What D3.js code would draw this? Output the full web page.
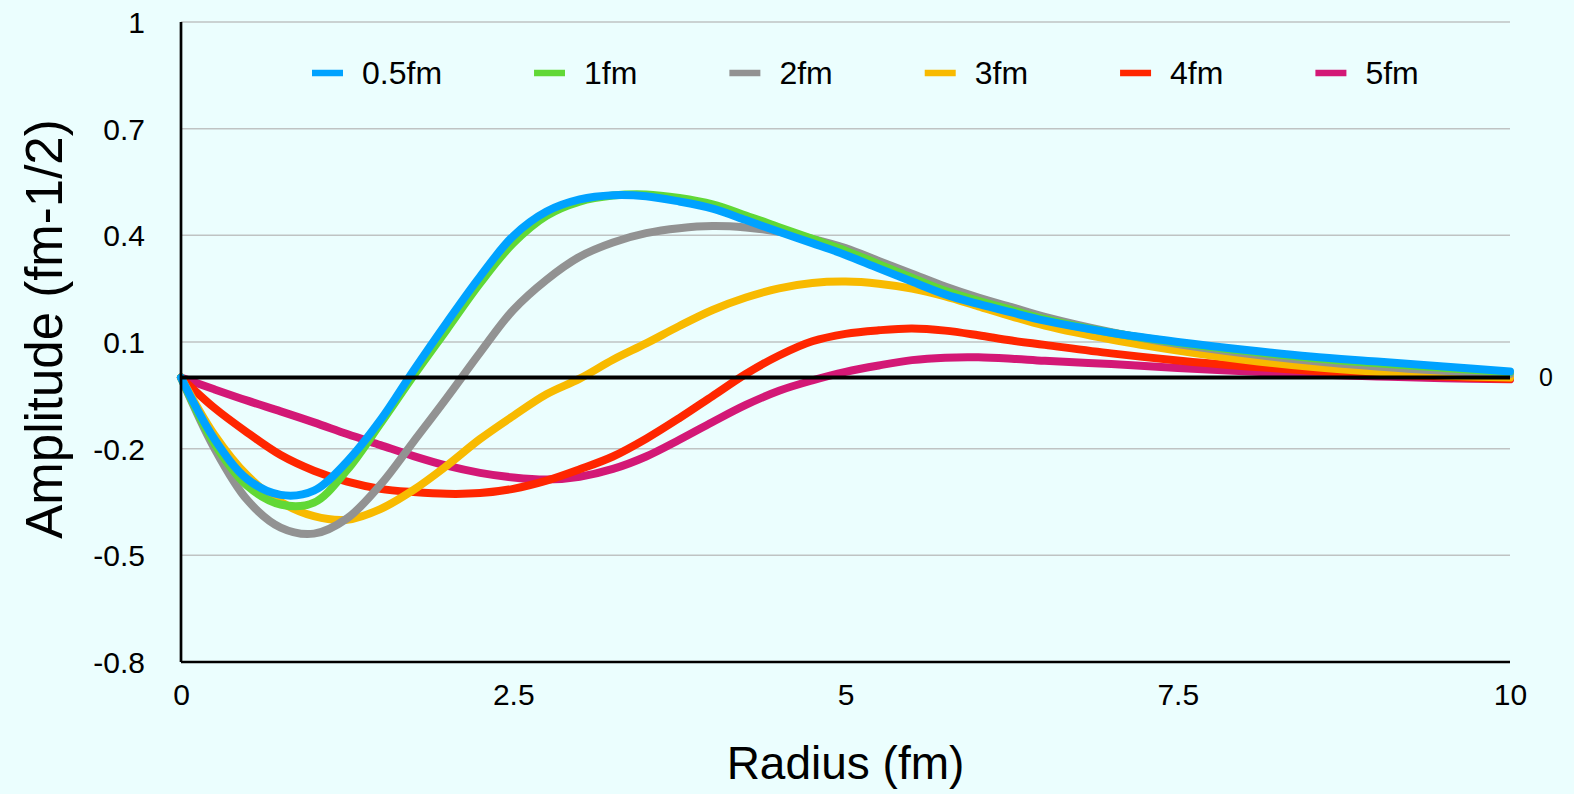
<!DOCTYPE html>
<html>
<head>
<meta charset="utf-8">
<script src="https://cdn.jsdelivr.net/npm/d3@7"></script>
<style>
  html, body { margin: 0; padding: 0; background: #ebfefe; }
  svg { display: block; }
  text { font-family: "Liberation Sans", Arial, Helvetica, sans-serif; fill: #000; }
</style>
</head>
<body>
<svg id="chart" width="1574" height="794"></svg>
<script>
// ---- Data ----
const radius = [0,0.25,0.5,0.75,1,1.25,1.5,1.75,2,2.25,2.5,2.75,3,3.25,3.5,3.75,4,4.25,4.5,4.75,5,5.25,5.5,5.75,6,6.25,6.5,7,7.5,8,8.5,9,9.5,10];

const s05 = [0,-0.172,-0.286,-0.33,-0.318,-0.236,-0.12,0.02,0.155,0.284,0.398,0.467,0.501,0.513,0.51,0.495,0.475,0.443,0.41,0.378,0.345,0.307,0.27,0.234,0.207,0.183,0.16,0.126,0.10,0.078,0.059,0.045,0.031,0.017];
const s1  = [0,-0.185,-0.305,-0.357,-0.352,-0.26,-0.13,0.005,0.135,0.265,0.378,0.455,0.495,0.512,0.515,0.505,0.487,0.456,0.423,0.39,0.357,0.319,0.281,0.244,0.216,0.19,0.164,0.126,0.098,0.075,0.055,0.04,0.027,0.015];
const s2  = [0,-0.198,-0.345,-0.422,-0.439,-0.396,-0.302,-0.18,-0.057,0.07,0.19,0.275,0.34,0.38,0.406,0.42,0.426,0.422,0.41,0.39,0.364,0.328,0.292,0.256,0.225,0.198,0.171,0.128,0.094,0.068,0.047,0.031,0.019,0.01];
const s3  = [0,-0.16,-0.276,-0.35,-0.39,-0.40,-0.37,-0.316,-0.248,-0.173,-0.108,-0.047,-0.003,0.05,0.096,0.145,0.19,0.225,0.251,0.266,0.27,0.264,0.25,0.228,0.2,0.172,0.146,0.107,0.076,0.05,0.03,0.016,0.006,0.0];
const s4  = [0,-0.085,-0.155,-0.218,-0.262,-0.293,-0.313,-0.322,-0.327,-0.325,-0.313,-0.29,-0.258,-0.222,-0.172,-0.114,-0.052,0.01,0.062,0.102,0.123,0.133,0.138,0.132,0.119,0.104,0.092,0.068,0.048,0.032,0.019,0.009,0.002,-0.004];
const s5  = [0,-0.033,-0.065,-0.095,-0.126,-0.159,-0.19,-0.221,-0.248,-0.268,-0.281,-0.287,-0.279,-0.257,-0.222,-0.175,-0.125,-0.077,-0.037,-0.008,0.016,0.034,0.049,0.056,0.057,0.053,0.047,0.038,0.027,0.018,0.009,0.003,-0.002,-0.005];

const seriesNames = ["0.5fm","1fm","2fm","3fm","4fm","5fm"];
const seriesValues = [s05, s1, s2, s3, s4, s5];
const seriesColors = ["#00a2ff","#61d836","#929292","#f8ba00","#ff2600","#d31876"];

const xTicks = [0, 2.5, 5, 7.5, 10];
const yTicks = [1, 0.7, 0.4, 0.1, -0.2, -0.5, -0.8];
const xTitle = "Radius (fm)";
const yTitle = "Amplitude (fm-1/2)";

(function () {
// ---- Layout ----
const svg = d3.select("#chart");
const mLeft = 181, mRight = 1510, mTop = 22, mBottom = 662;

const x = d3.scaleLinear().domain([0, 10]).range([mLeft, mRight]);
const y = d3.scaleLinear().domain([-0.8, 1]).range([mBottom, mTop]);

// gridlines
svg.append("g")
  .selectAll("line")
  .data(yTicks.filter(d => d !== -0.8))
  .join("line")
  .attr("x1", mLeft).attr("x2", mRight)
  .attr("y1", d => y(d)).attr("y2", d => y(d))
  .attr("stroke", "#bfc3c3").attr("stroke-width", 1.5);

// y axis
const yAxis = d3.axisLeft(y).tickValues(yTicks).tickSize(0).tickPadding(36)
  .tickFormat(d => String(+d.toFixed(1)));
const gy = svg.append("g").attr("transform", `translate(${mLeft},0)`).call(yAxis);
gy.select(".domain").remove();
gy.attr("font-family", null).attr("font-size", null);
gy.selectAll("text").style("font-size", "30px").attr("dy", "0.35em");

// x axis
const xAxis = d3.axisBottom(x).tickValues(xTicks).tickSize(0).tickPadding(22)
  .tickFormat(d => String(d));
const gx = svg.append("g").attr("transform", `translate(0,${mBottom})`).call(xAxis);
gx.select(".domain").remove();
gx.attr("font-family", null).attr("font-size", null);
gx.selectAll("text").style("font-size", "30px").attr("dy", "0.71em");

// series lines
const line = d3.line()
  .x((d, i) => x(radius[i]))
  .y(d => y(d))
  .curve(d3.curveCatmullRom.alpha(0.5));

const order = [5, 4, 3, 2, 1, 0];
svg.append("g")
  .selectAll("path")
  .data(order)
  .join("path")
  .attr("d", k => line(seriesValues[k]))
  .attr("fill", "none")
  .attr("stroke", k => seriesColors[k])
  .attr("stroke-width", 8)
  .attr("stroke-linejoin", "round")
  .attr("stroke-linecap", "round");

// zero line
svg.append("line")
  .attr("x1", mLeft).attr("x2", mRight)
  .attr("y1", y(0)).attr("y2", y(0))
  .attr("stroke", "#000").attr("stroke-width", 4);
svg.append("text")
  .attr("x", mRight + 36).attr("y", y(0))
  .attr("dy", "0.35em").attr("text-anchor", "middle")
  .style("font-size", "25px").text("0");

// axis lines
svg.append("line").attr("x1", mLeft).attr("x2", mLeft).attr("y1", mTop).attr("y2", mBottom)
  .attr("stroke", "#000").attr("stroke-width", 2.7);
svg.append("line").attr("x1", mLeft).attr("x2", mRight).attr("y1", mBottom).attr("y2", mBottom)
  .attr("stroke", "#000").attr("stroke-width", 2.7);

// titles
svg.append("text")
  .attr("x", x(5)).attr("y", 779)
  .attr("text-anchor", "middle")
  .style("font-size", "46px").text(xTitle);
svg.append("text")
  .attr("transform", `translate(62,329) rotate(-90)`)
  .attr("text-anchor", "middle")
  .style("font-size", "51px").text(yTitle);

// legend
const lg = svg.append("g");
let lx = 312;
seriesNames.forEach((name, i) => {
  lg.append("line")
    .attr("x1", lx).attr("x2", lx + 31)
    .attr("y1", 73).attr("y2", 73)
    .attr("stroke", seriesColors[i]).attr("stroke-width", 6.5);
  const t = lg.append("text")
    .attr("x", lx + 50).attr("y", 73).attr("dy", "0.35em")
    .style("font-size", "32px").text(name);
  const w = t.node().getComputedTextLength();
  lx = lx + 50 + w + 92;
});
})();
</script>
</body>
</html>
